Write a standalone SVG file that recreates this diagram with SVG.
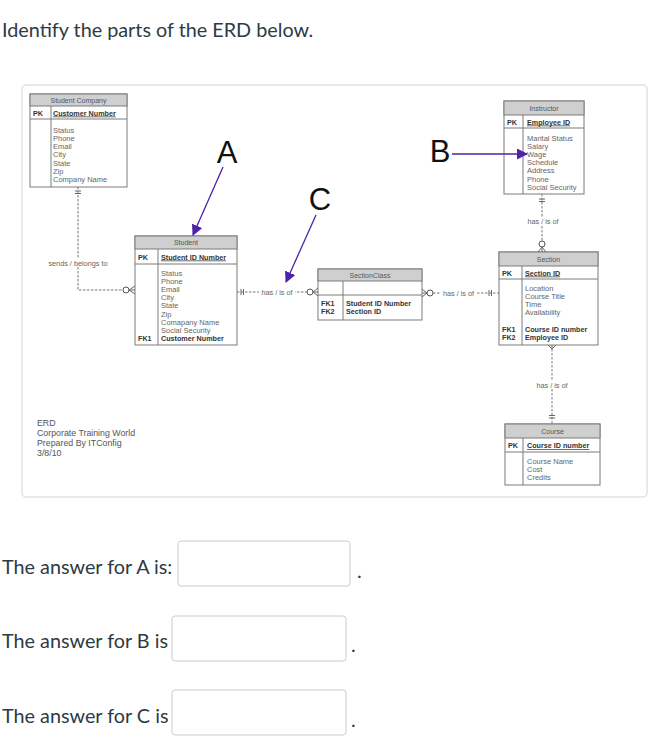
<svg xmlns="http://www.w3.org/2000/svg" width="655" height="738" viewBox="0 0 655 738">
<style>
.page{font-family:Lato,"Open Sans",sans-serif;font-size:19.8px;fill:#2d3b45}
.frame{fill:#fff;stroke:#e2e2e2;stroke-width:1.5}
.tb{fill:#fff;stroke:#7a7a7a;stroke-width:1}
.hd{fill:#cfcfcf;stroke:#7a7a7a;stroke-width:1}
.ln{stroke:#7a7a7a;stroke-width:1;fill:none}
.ht{font-family:"Liberation Sans",Arial,sans-serif;font-size:7px;fill:#555;text-anchor:middle}
.at{font-family:"Liberation Sans",Arial,sans-serif;font-size:7.5px;fill:#666}
.kb{font-family:"Liberation Sans",Arial,sans-serif;font-size:7.2px;fill:#333;font-weight:bold}
.pk{font-family:"Liberation Sans",Arial,sans-serif;font-size:7.2px;fill:#333;font-weight:bold;text-decoration:underline}
.rel{stroke:#777;stroke-width:1;fill:none;stroke-dasharray:2.5,1.5}
.mk{stroke:#666;stroke-width:1;fill:none}
.cir{stroke:#555;stroke-width:1;fill:#fff}
.rl{font-family:"Liberation Sans",Arial,sans-serif;font-size:7.3px;fill:#666}
.big{font-family:"Liberation Sans",Arial,sans-serif;font-size:31px;fill:#111;text-anchor:middle}
.arr{stroke:#4b22a8;stroke-width:1.3;fill:none}
.box{fill:#fff;stroke:#c7cdd1;stroke-width:1}
.note{font-family:"Liberation Sans",Arial,sans-serif;font-size:8.8px;fill:#555}
</style>
<defs>
<marker id="ah" markerWidth="11" markerHeight="11" refX="10" refY="5.5" orient="auto" markerUnits="userSpaceOnUse">
<path d="M0,0 L11,5.5 L0,11 z" fill="#4b22a8"/>
</marker>
</defs>
<rect width="655" height="738" fill="#fff"/>
<text class="page" x="2" y="37">Identify the parts of the ERD below.</text>

<rect class="frame" x="22" y="85" width="625" height="412" rx="4"/>

<g id="student-company">
<rect class="tb" x="30" y="94" width="97" height="93"/>
<rect class="hd" x="30" y="94" width="97" height="12"/>
<text class="ht" x="78.5" y="102.5">Student Company</text>
<line class="ln" x1="30" y1="119" x2="127" y2="119"/>
<line class="ln" x1="51" y1="106" x2="51" y2="187"/>
<text class="kb" x="33" y="115.5">PK</text>
<text class="pk" x="53" y="115.5">Customer Number</text>
<text class="at" x="53" y="132.5">Status</text>
<text class="at" x="53" y="140.8">Phone</text>
<text class="at" x="53" y="149.1">Email</text>
<text class="at" x="53" y="157.4">City</text>
<text class="at" x="53" y="165.7">State</text>
<text class="at" x="53" y="174">Zip</text>
<text class="at" x="53" y="182.3">Company Name</text>
</g>

<g id="student">
<rect class="tb" x="135" y="236" width="102" height="109"/>
<rect class="hd" x="135" y="236" width="102" height="13"/>
<text class="ht" x="186" y="245">Student</text>
<line class="ln" x1="135" y1="264" x2="237" y2="264"/>
<line class="ln" x1="158" y1="249" x2="158" y2="345"/>
<text class="kb" x="138" y="259.5">PK</text>
<text class="pk" x="161" y="259.5">Student ID Number</text>
<text class="at" x="161" y="275.5">Status</text>
<text class="at" x="161" y="283.7">Phone</text>
<text class="at" x="161" y="291.9">Email</text>
<text class="at" x="161" y="300.1">City</text>
<text class="at" x="161" y="308.3">State</text>
<text class="at" x="161" y="316.5">Zip</text>
<text class="at" x="161" y="324.7">Comapany Name</text>
<text class="at" x="161" y="332.9">Social Security</text>
<text class="kb" x="138" y="341">FK1</text>
<text class="kb" x="161" y="341">Customer Number</text>
</g>

<g id="sectionclass">
<rect class="tb" x="318" y="269" width="104" height="51"/>
<rect class="hd" x="318" y="269" width="104" height="12"/>
<text class="ht" x="370" y="277.5">SectionClass</text>
<line class="ln" x1="318" y1="295" x2="422" y2="295"/>
<line class="ln" x1="343" y1="281" x2="343" y2="320"/>
<text class="kb" x="321" y="305.5">FK1</text>
<text class="kb" x="346" y="305.5">Student ID Number</text>
<text class="kb" x="321" y="314">FK2</text>
<text class="kb" x="346" y="314">Section ID</text>
</g>

<g id="instructor">
<rect class="tb" x="504" y="101" width="80" height="93"/>
<rect class="hd" x="504" y="101" width="80" height="14"/>
<text class="ht" x="544" y="110.5">Instructor</text>
<line class="ln" x1="504" y1="128" x2="584" y2="128"/>
<line class="ln" x1="523" y1="115" x2="523" y2="194"/>
<text class="kb" x="507" y="124.5">PK</text>
<text class="pk" x="527" y="124.5">Employee ID</text>
<text class="at" x="527" y="140.5">Marital Status</text>
<text class="at" x="527" y="148.7">Salary</text>
<text class="at" x="527" y="156.9">Wage</text>
<text class="at" x="527" y="165.1">Schedule</text>
<text class="at" x="527" y="173.3">Address</text>
<text class="at" x="527" y="181.5">Phone</text>
<text class="at" x="527" y="189.7">Social Security</text>
</g>

<g id="section">
<rect class="tb" x="499" y="252" width="99" height="93"/>
<rect class="hd" x="499" y="252" width="99" height="14"/>
<text class="ht" x="548.5" y="261.5">Section</text>
<line class="ln" x1="499" y1="279" x2="598" y2="279"/>
<line class="ln" x1="522" y1="266" x2="522" y2="345"/>
<text class="kb" x="502" y="275.5">PK</text>
<text class="pk" x="525" y="275.5">Section ID</text>
<text class="at" x="525" y="290.5">Location</text>
<text class="at" x="525" y="298.8">Course Title</text>
<text class="at" x="525" y="307.1">Time</text>
<text class="at" x="525" y="315.4">Availability</text>
<text class="kb" x="502" y="331.5">FK1</text>
<text class="kb" x="525" y="331.5">Course ID number</text>
<text class="kb" x="502" y="340">FK2</text>
<text class="kb" x="525" y="340">Employee ID</text>
</g>

<g id="course">
<rect class="tb" x="505" y="424" width="95" height="61"/>
<rect class="hd" x="505" y="424" width="95" height="14"/>
<text class="ht" x="552.5" y="433.5">Course</text>
<line class="ln" x1="505" y1="452" x2="600" y2="452"/>
<line class="ln" x1="523" y1="438" x2="523" y2="485"/>
<text class="kb" x="508" y="448">PK</text>
<text class="pk" x="527" y="448">Course ID number</text>
<text class="at" x="527" y="463.5">Course Name</text>
<text class="at" x="527" y="471.7">Cost</text>
<text class="at" x="527" y="479.9">Credits</text>
</g>

<g id="erd-note">
<text class="note" x="37" y="426">ERD</text>
<text class="note" x="37" y="436">Corporate Training World</text>
<text class="note" x="37" y="446">Prepared By ITConfig</text>
<text class="note" x="37" y="456">3/8/10</text>
</g>

<g id="connectors">
<path class="rel" d="M78,187 V290 H123"/>
<line class="mk" x1="75" y1="191" x2="81" y2="191"/>
<line class="mk" x1="75" y1="193.5" x2="81" y2="193.5"/>
<rect x="46" y="259" width="64" height="8" fill="#fff"/>
<text class="rl" x="78" y="265.5" text-anchor="middle">sends / belongs to</text>
<circle class="cir" cx="126" cy="290" r="3"/>
<path class="mk" d="M129,290 L135,286 M129,290 L135,290 M129,290 L135,294"/>

<path class="rel" d="M237,292 H307"/>
<line class="mk" x1="241" y1="289" x2="241" y2="295"/>
<line class="mk" x1="243.5" y1="289" x2="243.5" y2="295"/>
<rect x="259" y="288" width="36" height="8" fill="#fff"/>
<text class="rl" x="277" y="294.5" text-anchor="middle">has / is of</text>
<circle class="cir" cx="310" cy="292" r="3"/>
<path class="mk" d="M313,292 L318,288 M313,292 L318,292 M313,292 L318,296"/>

<path class="rel" d="M433,293 H499"/>
<path class="mk" d="M427,293 L422,289 M427,293 L422,293 M427,293 L422,297"/>
<circle class="cir" cx="430" cy="293" r="3"/>
<rect x="440" y="289" width="37" height="8" fill="#fff"/>
<text class="rl" x="458.5" y="295.5" text-anchor="middle">has / is of</text>
<line class="mk" x1="489" y1="290" x2="489" y2="296"/>
<line class="mk" x1="491.5" y1="290" x2="491.5" y2="296"/>

<path class="rel" d="M542,194 V241"/>
<line class="mk" x1="539" y1="199" x2="545" y2="199"/>
<line class="mk" x1="539" y1="201.5" x2="545" y2="201.5"/>
<rect x="525" y="217" width="36" height="8" fill="#fff"/>
<text class="rl" x="543" y="223.5" text-anchor="middle">has / is of</text>
<circle class="cir" cx="542" cy="244" r="3"/>
<path class="mk" d="M542,247 L538,252 M542,247 L542,252 M542,247 L546,252"/>

<path class="mk" d="M552,349 L548,345 M552,349 L552,345 M552,349 L556,345"/>
<path class="rel" d="M552,349 V424"/>
<rect x="534" y="381" width="36" height="8" fill="#fff"/>
<text class="rl" x="552" y="387.5" text-anchor="middle">has / is of</text>
<line class="mk" x1="549" y1="415.5" x2="555" y2="415.5"/>
<line class="mk" x1="549" y1="418" x2="555" y2="418"/>

<line class="arr" x1="223" y1="167" x2="193" y2="235" marker-end="url(#ah)"/>
<line class="arr" x1="452" y1="154" x2="527" y2="154" marker-end="url(#ah)"/>
<line class="arr" x1="316" y1="215" x2="286" y2="282" marker-end="url(#ah)"/>
</g>

<g id="labels">
<text class="big" x="227" y="163">A</text>
<text class="big" x="440" y="162">B</text>
<text class="big" x="320" y="210">C</text>
</g>

<g id="answers">
<text class="page" x="2" y="574">The answer for A is:</text>
<rect class="box" x="178" y="541" width="172" height="45" rx="3"/>
<text class="page" x="357" y="578">.</text>
<text class="page" x="2" y="648">The answer for B is</text>
<rect class="box" x="172" y="616" width="174" height="45" rx="3"/>
<text class="page" x="351" y="652">.</text>
<text class="page" x="2" y="723">The answer for C is</text>
<rect class="box" x="172" y="690" width="174" height="45" rx="3"/>
<text class="page" x="351" y="727">.</text>
</g>
</svg>
